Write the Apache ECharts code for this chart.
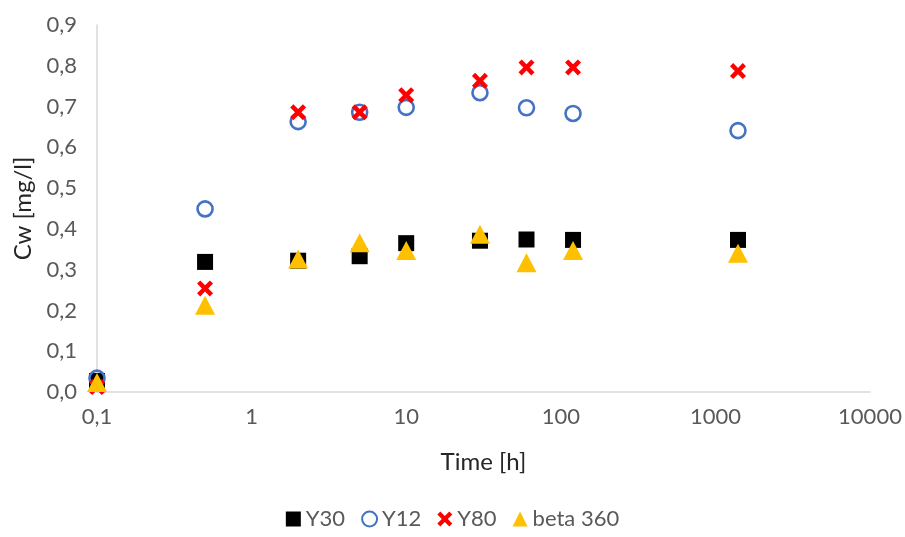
<!DOCTYPE html>
<html>
<head>
<meta charset="utf-8">
<script src="https://cdn.jsdelivr.net/npm/echarts@6/dist/echarts.min.js"></script>
<style>html,body{margin:0;padding:0;background:#fff}#c{width:905px;height:537px}</style>
</head>
<body>
<div id="c"></div>
<script>
var timeH = [0.1, 0.5, 2, 5, 10, 30, 60, 120, 1400];
var y30 = [0.027, 0.319, 0.322, 0.333, 0.365, 0.371, 0.374, 0.373, 0.373];
var y12 = [0.034, 0.449, 0.663, 0.686, 0.698, 0.734, 0.697, 0.683, 0.641];
var y80 = [0.012, 0.254, 0.686, 0.686, 0.728, 0.763, 0.796, 0.796, 0.787];
var beta360 = [0.023, 0.213, 0.326, 0.366, 0.347, 0.387, 0.317, 0.347, 0.340];
var seriesNames = ['Y30', 'Y12', 'Y80', 'beta 360'];

function pairs(xs, ys){ return xs.map(function(x,i){ return [x, ys[i]]; }); }
var crossPath = 'path://M2,0 L5,3 L8,0 L10,2 L7,5 L10,8 L8,10 L5,7 L2,10 L0,8 L3,5 L0,2 Z';
var font = 'Lato, "Open Sans", sans-serif';

var chart = echarts.init(document.getElementById('c'));
chart.setOption({
  animation: false,
  textStyle: { fontFamily: font },
  grid: { left: 97, right: 35, top: 25, bottom: 145 },
  legend: {
    bottom: 2,
    itemWidth: 15, itemHeight: 15, itemGap: 16,
    textStyle: { fontSize: 22, color: '#595959', fontFamily: font },
    data: seriesNames
  },
  xAxis: {
    type: 'log', logBase: 10, min: 0.1, max: 10000,
    name: 'Time [h]', nameLocation: 'middle', nameGap: 58,
    nameTextStyle: { fontSize: 24, color: '#262626', fontFamily: font },
    axisLine: { lineStyle: { color: '#d9d9d9', width: 1.5 } },
    axisTick: { show: false },
    splitLine: { show: false },
    minorTick: { show: false },
    axisLabel: {
      margin: 14, fontSize: 22, color: '#595959', fontFamily: font,
      formatter: function(v){ var r = Math.round(v*10)/10; return String(r).replace('.', ','); }
    }
  },
  yAxis: {
    type: 'value', min: 0, max: 0.9, interval: 0.1,
    name: 'Cw [mg/l]', nameLocation: 'middle', nameGap: 62,
    nameTextStyle: { fontSize: 24, color: '#262626', fontFamily: font },
    axisLine: { show: true, lineStyle: { color: '#d9d9d9', width: 1.5 } },
    axisTick: { show: false },
    splitLine: { show: false },
    axisLabel: {
      margin: 20, fontSize: 22, color: '#595959', fontFamily: font,
      formatter: function(v){ return v.toFixed(1).replace('.', ','); }
    }
  },
  series: [
    { name: seriesNames[0], type: 'scatter', symbol: 'rect', symbolSize: 16,
      itemStyle: { color: '#000000', opacity: 1 }, data: pairs(timeH, y30) },
    { name: seriesNames[1], type: 'scatter', symbol: 'circle', symbolSize: 15,
      itemStyle: { color: 'rgba(255,255,255,0)', borderColor: '#4472C4', borderWidth: 2.6, opacity: 1 }, data: pairs(timeH, y12) },
    { name: seriesNames[2], type: 'scatter', symbol: crossPath, symbolSize: 16,
      itemStyle: { color: '#FF0000', opacity: 1 }, data: pairs(timeH, y80) },
    { name: seriesNames[3], type: 'scatter', symbol: 'triangle', symbolSize: [20, 19],
      itemStyle: { color: '#FFC000', opacity: 1 }, data: pairs(timeH, beta360) }
  ]
});
</script>
</body>
</html>
